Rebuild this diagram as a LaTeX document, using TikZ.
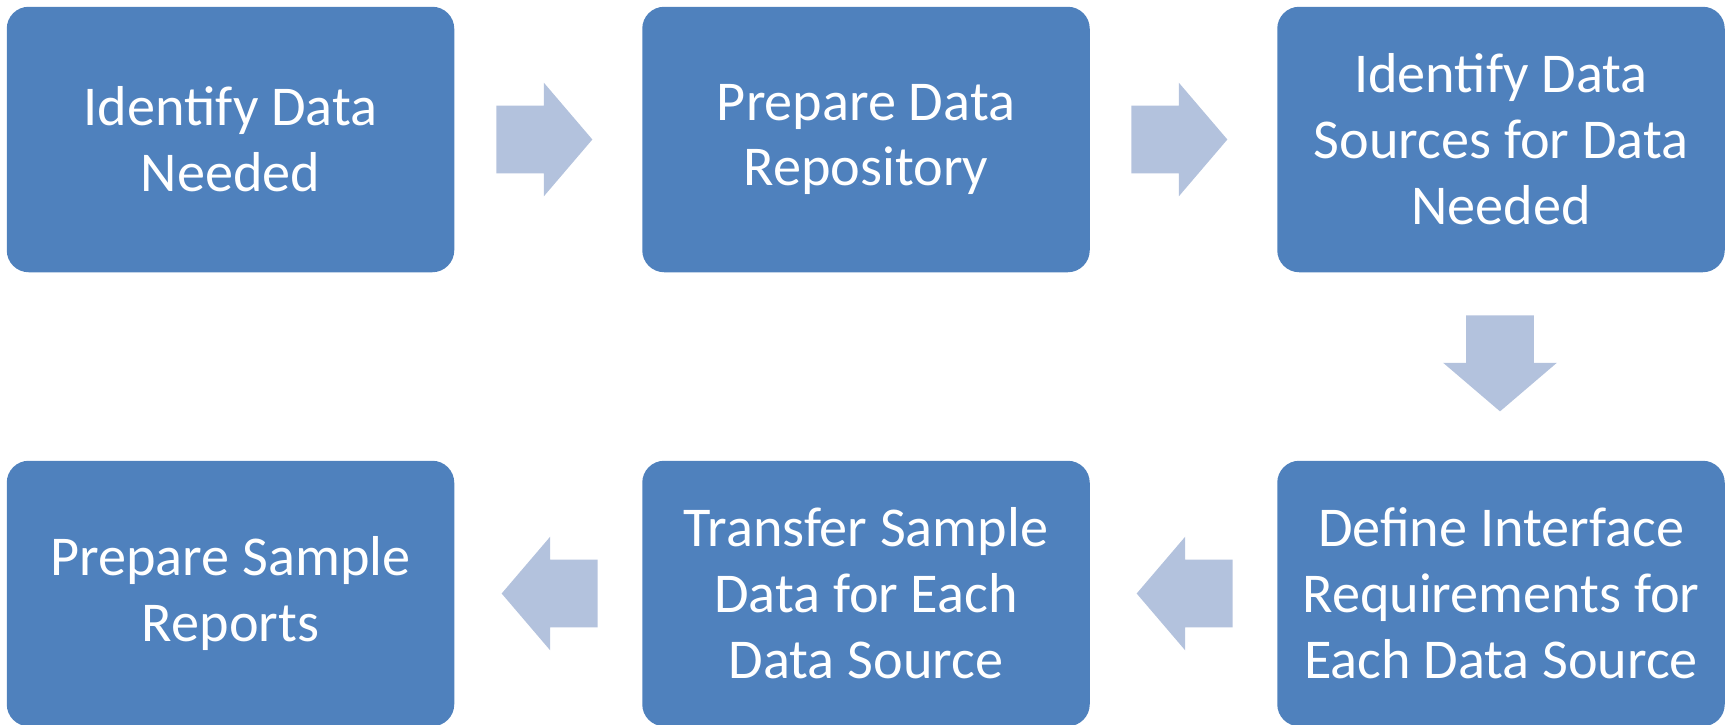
\documentclass[tikz,border=0pt]{standalone}
\usepackage{fontspec}
\setmainfont{Carlito}
\usepackage{tikz}
\usetikzlibrary{shapes.arrows}
\definecolor{boxblue}{HTML}{4F81BD}
\definecolor{arrowblue}{HTML}{B3C2DD}

\begin{document}
\begin{tikzpicture}
	\useasboundingbox (0,0) rectangle (34.58,-14.48);
	\begin{scope}[every node/.style={rectangle, rounded corners=0.44cm, fill=boxblue, text=white,
	              minimum width=8.95cm, minimum height=5.31cm, align=center,
	              font=\fontsize{32}{37.5}\selectfont}]
	    	\node (identify) at (4.61,-2.79) {Identify Data\\Needed};
		\node (repository) at (17.32,-2.79) {Prepare Data\\Repository};
	    	\node (sources) at (30.02,-2.79) {Identify Data\\Sources for Data\\Needed};
		\node (interface) at (30.02,-11.87) {Define Interface\\Requirements for\\Each Data Source};
	    	\node (transfer) at (17.32,-11.87) {Transfer Sample\\Data for Each\\Data Source};
	    	\node (reports) at (4.61,-11.87) {Prepare Sample\\Reports};
	\end{scope}

	\begin{scope}[every node/.style={single arrow, fill=arrowblue, inner xsep=0pt, inner ysep=0.67cm,
	              minimum height=1.92cm, minimum width=2.26cm, anchor=tail,
	              single arrow head extend=0.46cm, single arrow tip angle=99}]
		\node (step1) at (9.92,-2.79) {};
		\node (step2) at (22.62,-2.79) {};
		\node[rotate=-90] (step3) at (30.0,-6.3) {};
		\node[rotate=180] (step4) at (24.66,-11.87) {};
		\node[rotate=180] (step5) at (11.96,-11.87) {};
	\end{scope}
\end{tikzpicture}
\end{document}
